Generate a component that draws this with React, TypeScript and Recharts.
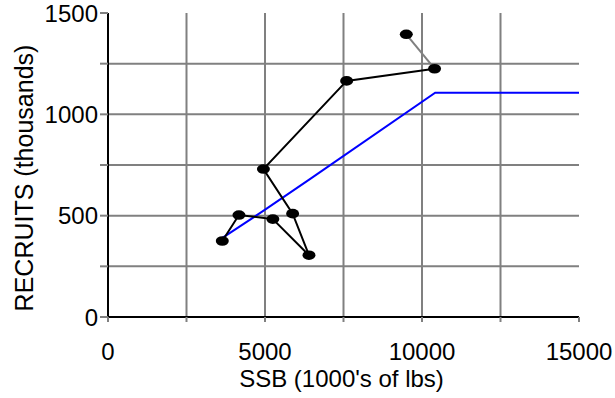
import React from 'react';
import { ComposedChart, Line, Scatter, XAxis, YAxis, CartesianGrid, Label } from 'recharts';

// Observed stock / recruitment pairs (in time order)
const ssb = [9500, 10400, 7600, 4950, 5880, 6400, 5250, 4170, 3640];
const recruits = [1395, 1225, 1165, 730, 510, 305, 483, 503, 375];

// Fitted stock-recruitment curve (hockey stick)
const curveSsb = [3620, 4980, 6430, 10420, 15000];
const curveRecruits = [388, 527, 680, 1107, 1107];

const xTicks = [0, 2500, 5000, 7500, 10000, 12500, 15000];
const yTicks = [0, 250, 500, 750, 1000, 1250, 1500];
const xTickLabels = [0, 5000, 10000, 15000];
const yTickLabels = [0, 500, 1000, 1500];
const xGrid = [2500, 5000, 7500, 10000, 12500];
const yGrid = [250, 500, 750, 1000, 1250];

const points = ssb.map((x, i) => ({ x, y: recruits[i] }));
const firstSegment = points.slice(0, 2);
const restSegment = points.slice(1);
const curve = curveSsb.map((x, i) => ({ x, y: curveRecruits[i] }));

const FONT = '"Liberation Sans", Arial, Helvetica, sans-serif';

const Ellipse = (props: any) => {
  const { cx, cy } = props;
  if (cx == null || cy == null) return null;
  return <ellipse cx={cx} cy={cy} rx={6.5} ry={4.8} fill="#000" />;
};

export default function App() {
  return (
    <div style={{ position: 'absolute', left: 0, top: 0, background: '#fff' }}>
      <ComposedChart
        width={615}
        height={398}
        margin={{ top: 13, right: 36, bottom: 0, left: 0 }}
        style={{ fontFamily: FONT }}
      >
        <CartesianGrid
          horizontalValues={yGrid}
          verticalValues={xGrid}
          stroke="#808080"
          strokeWidth={2}
        />
        <XAxis
          type="number"
          dataKey="x"
          domain={[0, 15000]}
          ticks={xTicks}
          allowDataOverflow
          tickFormatter={(v: number) => (xTickLabels.includes(v) ? String(v) : '')}
          height={81}
          axisLine={{ stroke: '#000', strokeWidth: 2 }}
          tickLine={{ stroke: '#808080', strokeWidth: 2 }}
          tickSize={5}
          tickMargin={21}
          tick={{ fill: '#000', fontSize: 24, fontFamily: FONT }}
        >
          <Label
            content={(p: any) => {
              const vb = p.viewBox || { x: 108, y: 316, width: 471 };
              return (
                <text
                  x={vb.x + vb.width / 2 - 2}
                  y={vb.y + 70}
                  textAnchor="middle"
                  fontSize={24}
                  fontFamily={FONT}
                  fill="#000"
                >
                  SSB (1000's of lbs)
                </text>
              );
            }}
          />
        </XAxis>
        <YAxis
          type="number"
          dataKey="y"
          domain={[0, 1500]}
          ticks={yTicks}
          allowDataOverflow
          tickFormatter={(v: number) => (yTickLabels.includes(v) ? String(v) : '')}
          width={108}
          axisLine={{ stroke: '#000', strokeWidth: 2 }}
          tickLine={{ stroke: '#808080', strokeWidth: 2 }}
          tickSize={8}
          tickMargin={2}
          tick={{ fill: '#000', fontSize: 24, fontFamily: FONT }}
        >
          <Label
            content={(p: any) => {
              const vb = p.viewBox || { x: 0, y: 13, height: 303 };
              const cy = vb.y + vb.height / 2 + 13;
              return (
                <text
                  x={33}
                  y={cy}
                  transform={`rotate(-90, 33, ${cy})`}
                  textAnchor="middle"
                  fontSize={25}
                  fontFamily={FONT}
                  fill="#000"
                >
                  RECRUITS (thousands)
                </text>
              );
            }}
          />
        </YAxis>
        <Line
          data={curve}
          dataKey="y"
          type="linear"
          stroke="#0000ff"
          strokeWidth={2}
          dot={false}
          activeDot={false}
          isAnimationActive={false}
        />
        <Line
          data={firstSegment}
          dataKey="y"
          type="linear"
          stroke="#808080"
          strokeWidth={2}
          dot={false}
          activeDot={false}
          isAnimationActive={false}
        />
        <Line
          data={restSegment}
          dataKey="y"
          type="linear"
          stroke="#000"
          strokeWidth={2}
          dot={false}
          activeDot={false}
          isAnimationActive={false}
        />
        <Scatter data={points} dataKey="y" shape={<Ellipse />} isAnimationActive={false} />
      </ComposedChart>
    </div>
  );
}
